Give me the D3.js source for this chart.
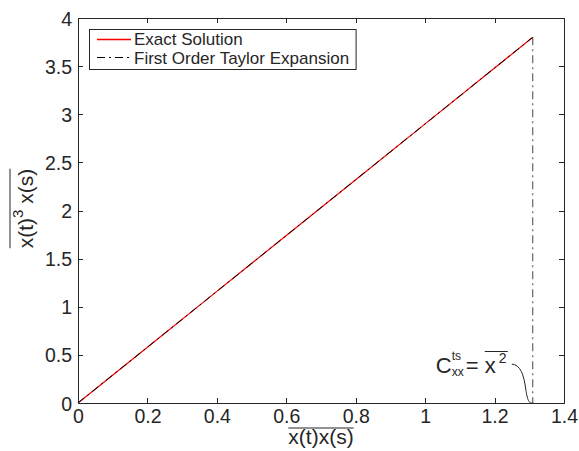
<!DOCTYPE html>
<html>
<head>
<meta charset="utf-8">
<script src="https://cdn.jsdelivr.net/npm/d3@7"></script>
<style>
html,body{margin:0;padding:0;background:#fff;}
svg text{font-family:"Liberation Sans",Arial,Helvetica,sans-serif;fill:#262626;}
</style>
</head>
<body>
<svg id="chart" width="579" height="451"></svg>
<script>
// ---- data ----
const xValues = [0, 0.2, 0.4, 0.6, 0.8, 1.0, 1.2, 1.31];
const exactValues = [0, 0.58, 1.16, 1.74, 2.32, 2.90, 3.48, 3.80];
const taylorValues = [0, 0.58, 1.16, 1.74, 2.32, 2.90, 3.48, 3.80];
const xTicks = [0, 0.2, 0.4, 0.6, 0.8, 1, 1.2, 1.4];
const yTicks = [0, 0.5, 1, 1.5, 2, 2.5, 3, 3.5, 4];
const seriesNames = ["Exact Solution", "First Order Taylor Expansion"];
const markerX = 1.31;      // C_xx^ts = mean(x^2)
const markerTop = 3.80;

// ---- layout ----
const svg = d3.select("#chart");
const L = 78, R = 564, T = 18, B = 403;
const x = d3.scaleLinear().domain([0, 1.4]).range([L, R]);
const y = d3.scaleLinear().domain([0, 4]).range([B, T]);
const axisColor = "#262626";
const fs = 19.5;
const lfs = 21;
const dashDot = "8,4,2,4";

// lines
const line = d3.line().x((d, i) => x(xValues[i])).y(d => y(d));
svg.append("path").datum(exactValues)
  .attr("d", line).attr("fill", "none").attr("stroke", "#ff0000").attr("stroke-width", 1.2);
svg.append("path").datum(taylorValues)
  .attr("d", line).attr("fill", "none").attr("stroke", "#000").attr("stroke-width", 1)
  .attr("stroke-dasharray", dashDot);

// vertical dash-dot marker
svg.append("line")
  .attr("x1", x(markerX)).attr("x2", x(markerX))
  .attr("y1", y(markerTop)).attr("y2", y(0))
  .attr("stroke", "#444").attr("stroke-width", 1)
  .attr("stroke-dasharray", dashDot);

// axes tick labels
const fmt = d3.format("~g");
const gB = svg.append("g").attr("transform", `translate(0,${B})`)
  .call(d3.axisBottom(x).tickValues(xTicks).tickSize(0).tickPadding(0).tickFormat(fmt));
gB.select(".domain").remove();
gB.selectAll("text").attr("font-size", fs).attr("dy", null).attr("y", 20).attr("fill", axisColor)
  .attr("font-family", '"Liberation Sans",Arial,sans-serif');

const gL = svg.append("g")
  .call(d3.axisLeft(y).tickValues(yTicks).tickSize(0).tickPadding(0).tickFormat(fmt));
gL.select(".domain").remove();
gL.selectAll("text").attr("font-size", fs).attr("x", L - 6).attr("dy", "0.36em").attr("fill", axisColor)
  .attr("font-family", '"Liberation Sans",Arial,sans-serif');

// tick marks (inward, all four sides)
const tickLen = 5;
const tk = svg.append("g").attr("stroke", axisColor).attr("stroke-width", 1);
xTicks.forEach(v => {
  const px = Math.round(x(v)) + 0.5;
  tk.append("line").attr("x1", px).attr("x2", px).attr("y1", B).attr("y2", B - tickLen);
  tk.append("line").attr("x1", px).attr("x2", px).attr("y1", T).attr("y2", T + tickLen);
});
yTicks.forEach(v => {
  const py = Math.round(y(v)) + 0.5;
  tk.append("line").attr("x1", L).attr("x2", L + tickLen).attr("y1", py).attr("y2", py);
  tk.append("line").attr("x1", R).attr("x2", R - tickLen).attr("y1", py).attr("y2", py);
});
// box
svg.append("rect").attr("x", L + 0.5).attr("y", T + 0.5)
  .attr("width", R - L).attr("height", B - T)
  .attr("fill", "none").attr("stroke", axisColor).attr("stroke-width", 1);

// x label with overline
const xl = svg.append("text").attr("x", (L + R) / 2).attr("y", 444)
  .attr("text-anchor", "middle").attr("font-size", lfs).text("x(t)x(s)");
const xlW = xl.node().getComputedTextLength();
svg.append("line").attr("x1", (L + R) / 2 - xlW / 2).attr("x2", (L + R) / 2 + xlW / 2)
  .attr("y1", 428).attr("y2", 428).attr("stroke", axisColor).attr("stroke-width", 1);

// y label with overline (rotated)
const yl = svg.append("g").attr("transform", `translate(33,${(T + B) / 2 - 2}) rotate(-90)`);
const ylt = yl.append("text").attr("text-anchor", "middle").attr("font-size", lfs);
ylt.append("tspan").text("x(t)");
ylt.append("tspan").attr("dy", -10).attr("font-size", 15).text("3");
ylt.append("tspan").attr("dy", 10).text(" x(s)");
const ylW = ylt.node().getComputedTextLength();
yl.append("line").attr("x1", -ylW / 2).attr("x2", ylW / 2).attr("y1", -23).attr("y2", -23)
  .attr("stroke", axisColor).attr("stroke-width", 1);

// legend
const lg = svg.append("g");
const legFs = 17;
const rowY = [45, 64];
const legRect = lg.append("rect").attr("x", 89.5).attr("y", 29.5).attr("height", 40)
  .attr("fill", "#fff").attr("stroke", axisColor).attr("stroke-width", 1);
lg.append("line").attr("x1", 97).attr("x2", 131).attr("y1", 39.5).attr("y2", 39.5)
  .attr("stroke", "#ff0000").attr("stroke-width", 1.3);
lg.append("line").attr("x1", 97).attr("x2", 131).attr("y1", 57.5).attr("y2", 57.5)
  .attr("stroke", "#000").attr("stroke-width", 1).attr("stroke-dasharray", dashDot);
let maxW = 0;
seriesNames.forEach((n, i) => {
  const t = lg.append("text").attr("x", 134).attr("y", rowY[i]).attr("font-size", legFs).text(n);
  maxW = Math.max(maxW, t.node().getComputedTextLength());
});
legRect.attr("width", 134 + maxW + 7 - 89.5);

// annotation C_xx^ts = overline{x^2}
const ax = x(markerX), ay = y(0);
const an = svg.append("g");
an.append("text").attr("x", ax - 97).attr("y", ay - 30).attr("font-size", 22).text("C");
an.append("text").attr("x", ax - 81).attr("y", ay - 43).attr("font-size", 12).text("ts");
an.append("text").attr("x", ax - 81).attr("y", ay - 27).attr("font-size", 12).text("xx");
an.append("text").attr("x", ax - 67).attr("y", ay - 30).attr("font-size", 22).text("=");
an.append("text").attr("x", ax - 48).attr("y", ay - 30).attr("font-size", 22).text("x");
an.append("text").attr("x", ax - 34).attr("y", ay - 40).attr("font-size", 14).text("2");
an.append("line").attr("x1", ax - 48).attr("x2", ax - 25).attr("y1", ay - 51.5).attr("y2", ay - 51.5)
  .attr("stroke", axisColor).attr("stroke-width", 1);
an.append("path")
  .attr("d", `M${ax - 21},${ay - 39} C${ax - 12},${ay - 38} ${ax - 9},${ay - 28} ${ax - 7},${ay - 14} S${ax - 3},${ay} ${ax},${ay}`)
  .attr("fill", "none").attr("stroke", "#262626").attr("stroke-width", 1);
</script>
</body>
</html>
